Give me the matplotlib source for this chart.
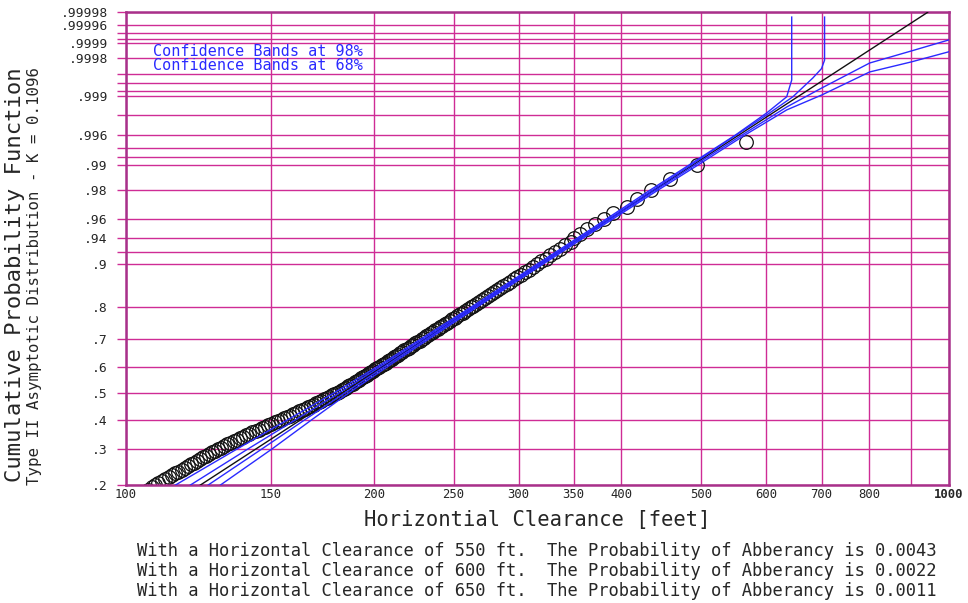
import numpy as np
import matplotlib
matplotlib.use('Agg')
import matplotlib.pyplot as plt

# ---------------- data ----------------
# observed clearances (feet) and their plotted cumulative probabilities
obs_F = [0.185, 0.190, 0.195, 0.200, 0.205, 0.210, 0.215, 0.220, 0.225, 0.230,
         0.235, 0.240, 0.245, 0.250, 0.255, 0.260, 0.265, 0.270, 0.275, 0.280,
         0.285, 0.290, 0.295, 0.300, 0.305, 0.310, 0.315, 0.320, 0.325, 0.330,
         0.335, 0.340, 0.345, 0.350, 0.355, 0.360, 0.365, 0.370, 0.375, 0.380,
         0.385, 0.390, 0.395, 0.400, 0.405, 0.410, 0.415, 0.420, 0.425, 0.430,
         0.435, 0.440, 0.445, 0.450, 0.455, 0.460, 0.465, 0.470, 0.475, 0.480,
         0.485, 0.490, 0.495, 0.500, 0.505, 0.510, 0.515, 0.520, 0.525, 0.530,
         0.535, 0.540, 0.545, 0.550, 0.555, 0.560, 0.565, 0.570, 0.575, 0.580,
         0.585, 0.590, 0.595, 0.600, 0.605, 0.610, 0.615, 0.620, 0.625, 0.630,
         0.635, 0.640, 0.645, 0.650, 0.655, 0.660, 0.665, 0.670, 0.675, 0.680,
         0.685, 0.690, 0.695, 0.700, 0.705, 0.710, 0.715, 0.720, 0.725, 0.730,
         0.735, 0.740, 0.745, 0.750, 0.755, 0.760, 0.765, 0.770, 0.775, 0.780,
         0.785, 0.790, 0.795, 0.800, 0.805, 0.810, 0.815, 0.820, 0.825, 0.830,
         0.835, 0.840, 0.845, 0.850, 0.855, 0.860, 0.865, 0.870, 0.875, 0.880,
         0.885, 0.890, 0.895, 0.900, 0.905, 0.910, 0.915, 0.920, 0.925, 0.930,
         0.935, 0.940, 0.945, 0.950, 0.955, 0.960, 0.965, 0.970, 0.975, 0.980,
         0.985, 0.990, 0.995]
obs_x = [105.3, 106.3, 107.4, 108.5, 109.5, 110.6, 111.6, 112.7, 113.7, 114.7,
         115.8, 116.8, 117.8, 118.8, 119.9, 120.9, 121.9, 123, 124, 125,
         126.1, 127.1, 128.1, 129.2, 130.4, 131.5, 132.7, 133.9, 135.1, 136.3,
         137.5, 138.7, 139.9, 141.1, 142.4, 143.7, 145, 146.3, 147.6, 148.9,
         150.2, 151.6, 152.9, 154.3, 155.6, 156.9, 158.2, 159.6, 160.9, 162.3,
         163.6, 165, 166.4, 167.7, 169, 170.2, 171.5, 172.8, 174.1, 175.3,
         176.6, 177.9, 179.2, 180.6, 181.7, 182.8, 183.9, 185.1, 186.2, 187.4,
         188.5, 189.7, 190.9, 192.1, 193.1, 194.2, 195.3, 196.4, 197.5, 198.7,
         199.8, 200.9, 202.1, 203.2, 204.4, 205.6, 206.8, 207.9, 209.2, 210.4,
         211.6, 212.8, 214.1, 215.3, 216.6, 217.9, 219.2, 220.5, 221.9, 223.2,
         224.6, 226, 227.4, 228.8, 230.2, 231.7, 233.1, 234.6, 236.1, 237.7,
         239.2, 240.8, 242.4, 244.1, 245.7, 247.4, 249.2, 250.9, 252.7, 254.5,
         256.4, 258.3, 260.2, 262.2, 264.2, 266.3, 268.4, 270.5, 272.8, 275,
         277.4, 279.8, 282.3, 284.8, 287.4, 290.1, 292.9, 295.8, 298.8, 301.9,
         305.2, 308.6, 312.1, 315.8, 319.5, 323.4, 327.6, 332, 336.6, 341.6,
         347, 350, 355.9, 363.3, 371.3, 380.8, 390.8, 405.7, 417.9, 435,
         458.7, 493.4, 566.3]

# fitted distribution line
fit_x = [123, 942]
fit_F = [0.2, 0.99998]

# confidence bands
up98_x = [114.7, 136.3, 157.3, 179.0, 202.0, 228.0, 262.2, 315.7, 367.3, 432.9, 483.4, 550.0, 600.6, 635, 644, 644]
up98_F = [0.2, 0.3, 0.4, 0.5, 0.6, 0.7, 0.8, 0.9, 0.95, 0.98, 0.99, 0.996, 0.99814, 0.99898, 0.99948, 0.999974]
up68_x = [119.6, 140.5, 160.8, 181.5, 203.7, 229.6, 263.7, 317.4, 369.3, 436.0, 486.1, 551.1, 600.6, 646, 683, 700, 706, 706]
up68_F = [0.2, 0.3, 0.4, 0.5, 0.6, 0.7, 0.8, 0.9, 0.95, 0.98, 0.99, 0.996, 0.998, 0.99898, 0.99952, 0.99968, 0.99978, 0.999974]
lo68_x = [125.7, 146.1, 165.0, 184.5, 206.0, 231.6, 265.2, 319.2, 371.4, 439.6, 491.6, 560.0, 635, 700.5, 801, 900, 999]
lo68_F = [0.2, 0.3, 0.4, 0.5, 0.6, 0.7, 0.8, 0.9, 0.95, 0.98, 0.99, 0.996, 0.9985, 0.99928, 0.99975, 0.999856, 0.999915]
lo98_x = [130.1, 150.3, 168.2, 186.6, 207.8, 233.2, 266.6, 321.0, 373.5, 442.7, 495.7, 564.7, 635, 700.5, 801, 900, 999]
lo98_F = [0.2, 0.3, 0.4, 0.5, 0.6, 0.7, 0.8, 0.9, 0.95, 0.98, 0.99, 0.996, 0.99833, 0.99905, 0.99963, 0.999762, 0.99985]

y_grid = [0.2, 0.3, 0.4, 0.5, 0.6, 0.7, 0.8, 0.9, 0.92, 0.94, 0.96, 0.98, 0.99, 0.992, 0.994,
          0.996, 0.998, 0.999, 0.9992, 0.9994, 0.9996, 0.9998, 0.9999, 0.99992, 0.99994, 0.99996, 0.99998]
y_labels = ['.2', '.3', '.4', '.5', '.6', '.7', '.8', '.9', '', '.94', '.96', '.98', '.99', '', '',
            '.996', '', '.999', '', '', '', '.9998', '.9999', '', '', '.99996', '.99998']
x_grid = [100, 150, 200, 250, 300, 350, 400, 500, 600, 700, 800, 900, 1000]
x_labels = ['100', '150', '200', '250', '300', '350', '400', '500', '600', '700', '800', '', '1000']

notes = ["With a Horizontal Clearance of 550 ft.  The Probability of Abberancy is 0.0043",
         "With a Horizontal Clearance of 600 ft.  The Probability of Abberancy is 0.0022",
         "With a Horizontal Clearance of 650 ft.  The Probability of Abberancy is 0.0011"]

# ---------------- probability-paper scale ----------------
A_SHIFT = 2.23
def fwd(p):
    p = np.clip(np.asarray(p, float), 1e-4, 1 - 1e-13)
    g = -np.log(-np.log(p))
    return np.log(np.maximum(g + A_SHIFT, 1e-9))

def inv(t):
    g = np.exp(np.asarray(t, float)) - A_SHIFT
    return np.exp(-np.exp(-g))

MONO = 'DejaVu Sans Mono'
GRID = '#cf2c95'
BLUE = '#2a2aff'
W, H = 968, 603

fig = plt.figure(figsize=(W / 100, H / 100), dpi=100)
ax = fig.add_axes([126 / W, 1 - 485.3 / H, (949 - 126) / W, (485.3 - 12.3) / H])
ax.set_xscale('log')
ax.set_yscale('function', functions=(fwd, inv))
ax.set_xlim(100, 1000)
ax.set_ylim(0.2, 0.99998)

ax.set_yticks(y_grid)
ax.set_yticklabels(y_labels)
ax.set_xticks(x_grid)
ax.set_xticklabels(x_labels)
ax.minorticks_off()
ax.tick_params(axis='y', direction='out', length=6.5, width=1, color=GRID, pad=6.5,
               labelsize=9.4, labelcolor='#262626')
ax.tick_params(axis='x', length=0, pad=2, labelsize=8.8, labelcolor='#262626')
for lab in ax.get_xticklabels() + ax.get_yticklabels():
    lab.set_family(MONO)
ax.get_xticklabels()[-1].set_fontweight('bold')
ax.grid(True, color=GRID, lw=1.0)
ax.set_axisbelow(True)
for s in ax.spines.values():
    s.set_color('#a8308a')
    s.set_linewidth(1.8)

ax.plot(obs_x, obs_F, 'o', mfc='none', mec='#111111', ms=9.8, mew=0.9, zorder=2)
ax.plot(fit_x, fit_F, color='#111111', lw=1.0, zorder=3)
for xs, fs in [(up98_x, up98_F), (up68_x, up68_F), (lo68_x, lo68_F), (lo98_x, lo98_F)]:
    ax.plot(xs, fs, color=BLUE, lw=1.0, zorder=3)

fig.text(15 / W, 1 - 275 / H, 'Cumulative Probability Function', rotation=90, ha='center',
         va='center', fontsize=16, family=MONO, color='#262626')
fig.text(35 / W, 1 - 276 / H, 'Type II Asymptotic Distribution - K = 0.1096', rotation=90,
         ha='center', va='center', fontsize=11.3, family=MONO, color='#262626')
fig.text(537 / W, 1 - 520 / H, 'Horizontial Clearance [feet]', ha='center', va='center',
         fontsize=14.8, family=MONO, color='#262626')
fig.text(153 / W, 1 - 51 / H, 'Confidence Bands at 98%', ha='left', va='center', fontsize=10.9,
         family=MONO, color=BLUE)
fig.text(153 / W, 1 - 66 / H, 'Confidence Bands at 68%', ha='left', va='center', fontsize=10.9,
         family=MONO, color=BLUE)
for k, s in enumerate(notes):
    fig.text(137 / W, 1 - (551 + 20 * k) / H, s, ha='left', va='center', fontsize=12.3,
             family=MONO, color='#262626')

fig.savefig('out.png', dpi=100)
